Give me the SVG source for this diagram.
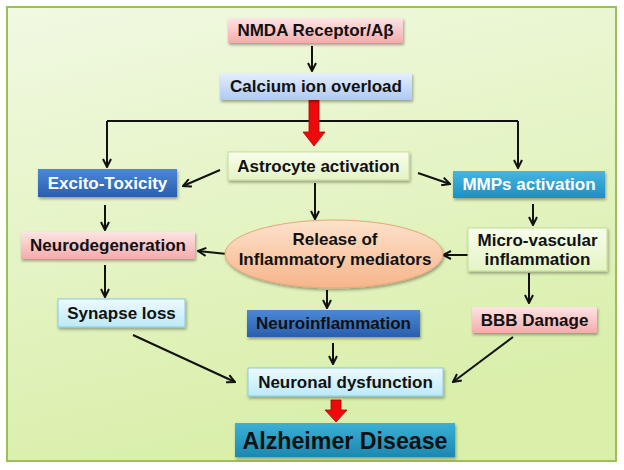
<svg xmlns="http://www.w3.org/2000/svg" width="624" height="470" viewBox="0 0 624 470">
<defs>
<linearGradient id="bg" x1="0" y1="0" x2="0.3" y2="1"><stop offset="0" stop-color="#f1f9e2"/><stop offset="1" stop-color="#d9efaa"/></linearGradient>
<linearGradient id="pink" x1="0" y1="0" x2="0" y2="1"><stop offset="0" stop-color="#fde4e4"/><stop offset="1" stop-color="#f5abab"/></linearGradient>
<linearGradient id="lblue" x1="0" y1="0" x2="0" y2="1"><stop offset="0" stop-color="#e6effd"/><stop offset="1" stop-color="#aec9f3"/></linearGradient>
<linearGradient id="lgreen" x1="0" y1="0" x2="0" y2="1"><stop offset="0" stop-color="#f8fdec"/><stop offset="1" stop-color="#e4f4c4"/></linearGradient>
<linearGradient id="dblue" x1="0" y1="0" x2="0" y2="1"><stop offset="0" stop-color="#4a88d6"/><stop offset="1" stop-color="#2a5fae"/></linearGradient>
<linearGradient id="cyan" x1="0" y1="0" x2="0" y2="1"><stop offset="0" stop-color="#45b6e2"/><stop offset="1" stop-color="#1f8fc0"/></linearGradient>
<linearGradient id="lcyan" x1="0" y1="0" x2="0" y2="1"><stop offset="0" stop-color="#eefafe"/><stop offset="1" stop-color="#bde9f8"/></linearGradient>
<linearGradient id="teal" x1="0" y1="0" x2="0" y2="1"><stop offset="0" stop-color="#3bb0d6"/><stop offset="1" stop-color="#1c88b0"/></linearGradient>
<linearGradient id="peach" x1="0" y1="0" x2="0" y2="1"><stop offset="0" stop-color="#fde2cc"/><stop offset="1" stop-color="#f7b58a"/></linearGradient>
<filter id="sh" x="-10%" y="-20%" width="120%" height="160%"><feDropShadow dx="1" dy="2" stdDeviation="1.5" flood-color="#000" flood-opacity="0.35"/></filter>
<marker id="ah" viewBox="0 0 10 10" refX="9" refY="5" markerWidth="5" markerHeight="5" orient="auto" markerUnits="strokeWidth"><path d="M1,1 L9,5 L1,9" fill="none" stroke="#111" stroke-width="2"/></marker>
<style>
.t{font-family:"Liberation Sans",Arial,sans-serif;font-weight:bold;font-size:17px;text-anchor:middle;fill:#111}
.w{fill:#fff}
.c{stroke:#111;stroke-width:2;fill:none;marker-end:url(#ah)}
.ln{stroke:#111;stroke-width:2;fill:none}
.red{fill:#ee0a0a;stroke:#b00000;stroke-width:0.8}
</style>
</defs>
<rect x="0" y="0" width="624" height="470" fill="#fff"/>
<rect x="7" y="7" width="609" height="454" fill="url(#bg)" stroke="#9dbf5a" stroke-width="2"/>

<g id="connectors">
<path class="c" d="M312,46 V71"/>
<path class="ln" d="M107,121 H518"/>
<path class="c" d="M107,121 V167"/>
<path class="c" d="M518,121 V168"/>
<path class="c" d="M220,170 L183,186"/>
<path class="c" d="M418,173 L450,184"/>
<path class="c" d="M315,183 V219"/>
<path class="c" d="M105,205 V230"/>
<path class="c" d="M227,254 L198,251"/>
<path class="c" d="M533,204 V225"/>
<path class="c" d="M468,255 H443"/>
<path class="c" d="M105,265 V297"/>
<path class="c" d="M529,273 V303"/>
<path class="c" d="M327,290 V308"/>
<path class="c" d="M333,343 V364"/>
<path class="c" d="M133,335 L235,382"/>
<path class="c" d="M513,337 L453,382"/>
<path class="red" d="M309,100 H319 V132 H325 L314,146 L303,132 H309 Z"/>
<path class="red" d="M331,400 H341 V410 H347 L336,422 L325,410 H331 Z"/>
</g>

<g id="nmda"><rect x="228" y="18" width="175" height="25" fill="url(#pink)" filter="url(#sh)"/><text class="t" x="315.5" y="36">NMDA Receptor/Aβ</text></g>
<g id="calcium"><rect x="220" y="73" width="192" height="27" fill="url(#lblue)" filter="url(#sh)"/><text class="t" x="316" y="92">Calcium ion overload</text></g>
<g id="astrocyte"><rect x="228" y="152" width="181" height="28" fill="url(#lgreen)" stroke="#c5dd96" stroke-width="1" filter="url(#sh)"/><text class="t" x="318.5" y="172">Astrocyte activation</text></g>
<g id="excito"><rect x="38" y="169" width="139" height="28" fill="url(#dblue)" filter="url(#sh)"/><text class="t w" x="107.5" y="189">Excito-Toxicity</text></g>
<g id="mmps"><rect x="453" y="171" width="152" height="27" fill="url(#cyan)" filter="url(#sh)"/><text class="t w" x="529" y="190">MMPs activation</text></g>
<g id="neurodeg"><rect x="21" y="232" width="174" height="27" fill="url(#pink)" filter="url(#sh)"/><text class="t" x="108" y="251">Neurodegeneration</text></g>
<g id="release"><ellipse cx="334" cy="254" rx="109" ry="34" fill="url(#peach)" stroke="#e9a77a" stroke-width="1" filter="url(#sh)"/><text class="t" x="335" y="245">Release of</text><text class="t" x="335" y="265">Inflammatory mediators</text></g>
<g id="microvascular"><rect x="468" y="228" width="139" height="43" fill="url(#lgreen)" stroke="#c5dd96" stroke-width="1" filter="url(#sh)"/><text class="t" x="537.5" y="246">Micro-vascular</text><text class="t" x="537.5" y="265">inflammation</text></g>
<g id="synapse"><rect x="58" y="299" width="127" height="28" fill="url(#lcyan)" stroke="#86cbe2" stroke-width="1" filter="url(#sh)"/><text class="t" x="121.5" y="319">Synapse loss</text></g>
<g id="neuroinflammation"><rect x="247" y="310" width="173" height="27" fill="url(#dblue)" filter="url(#sh)"/><text class="t" x="333.5" y="329">Neuroinflammation</text></g>
<g id="bbb"><rect x="472" y="307" width="125" height="26" fill="url(#pink)" filter="url(#sh)"/><text class="t" x="534.5" y="326">BBB Damage</text></g>
<g id="neuronal"><rect x="248" y="368" width="195" height="28" fill="url(#lcyan)" stroke="#86cbe2" stroke-width="1" filter="url(#sh)"/><text class="t" x="345.5" y="388">Neuronal dysfunction</text></g>
<g id="alzheimer"><rect x="235" y="423" width="220" height="34" fill="url(#teal)" filter="url(#sh)"/><text class="t" x="345" y="449" style="font-size:24px" textLength="205" lengthAdjust="spacingAndGlyphs">Alzheimer Disease</text></g>
</svg>
